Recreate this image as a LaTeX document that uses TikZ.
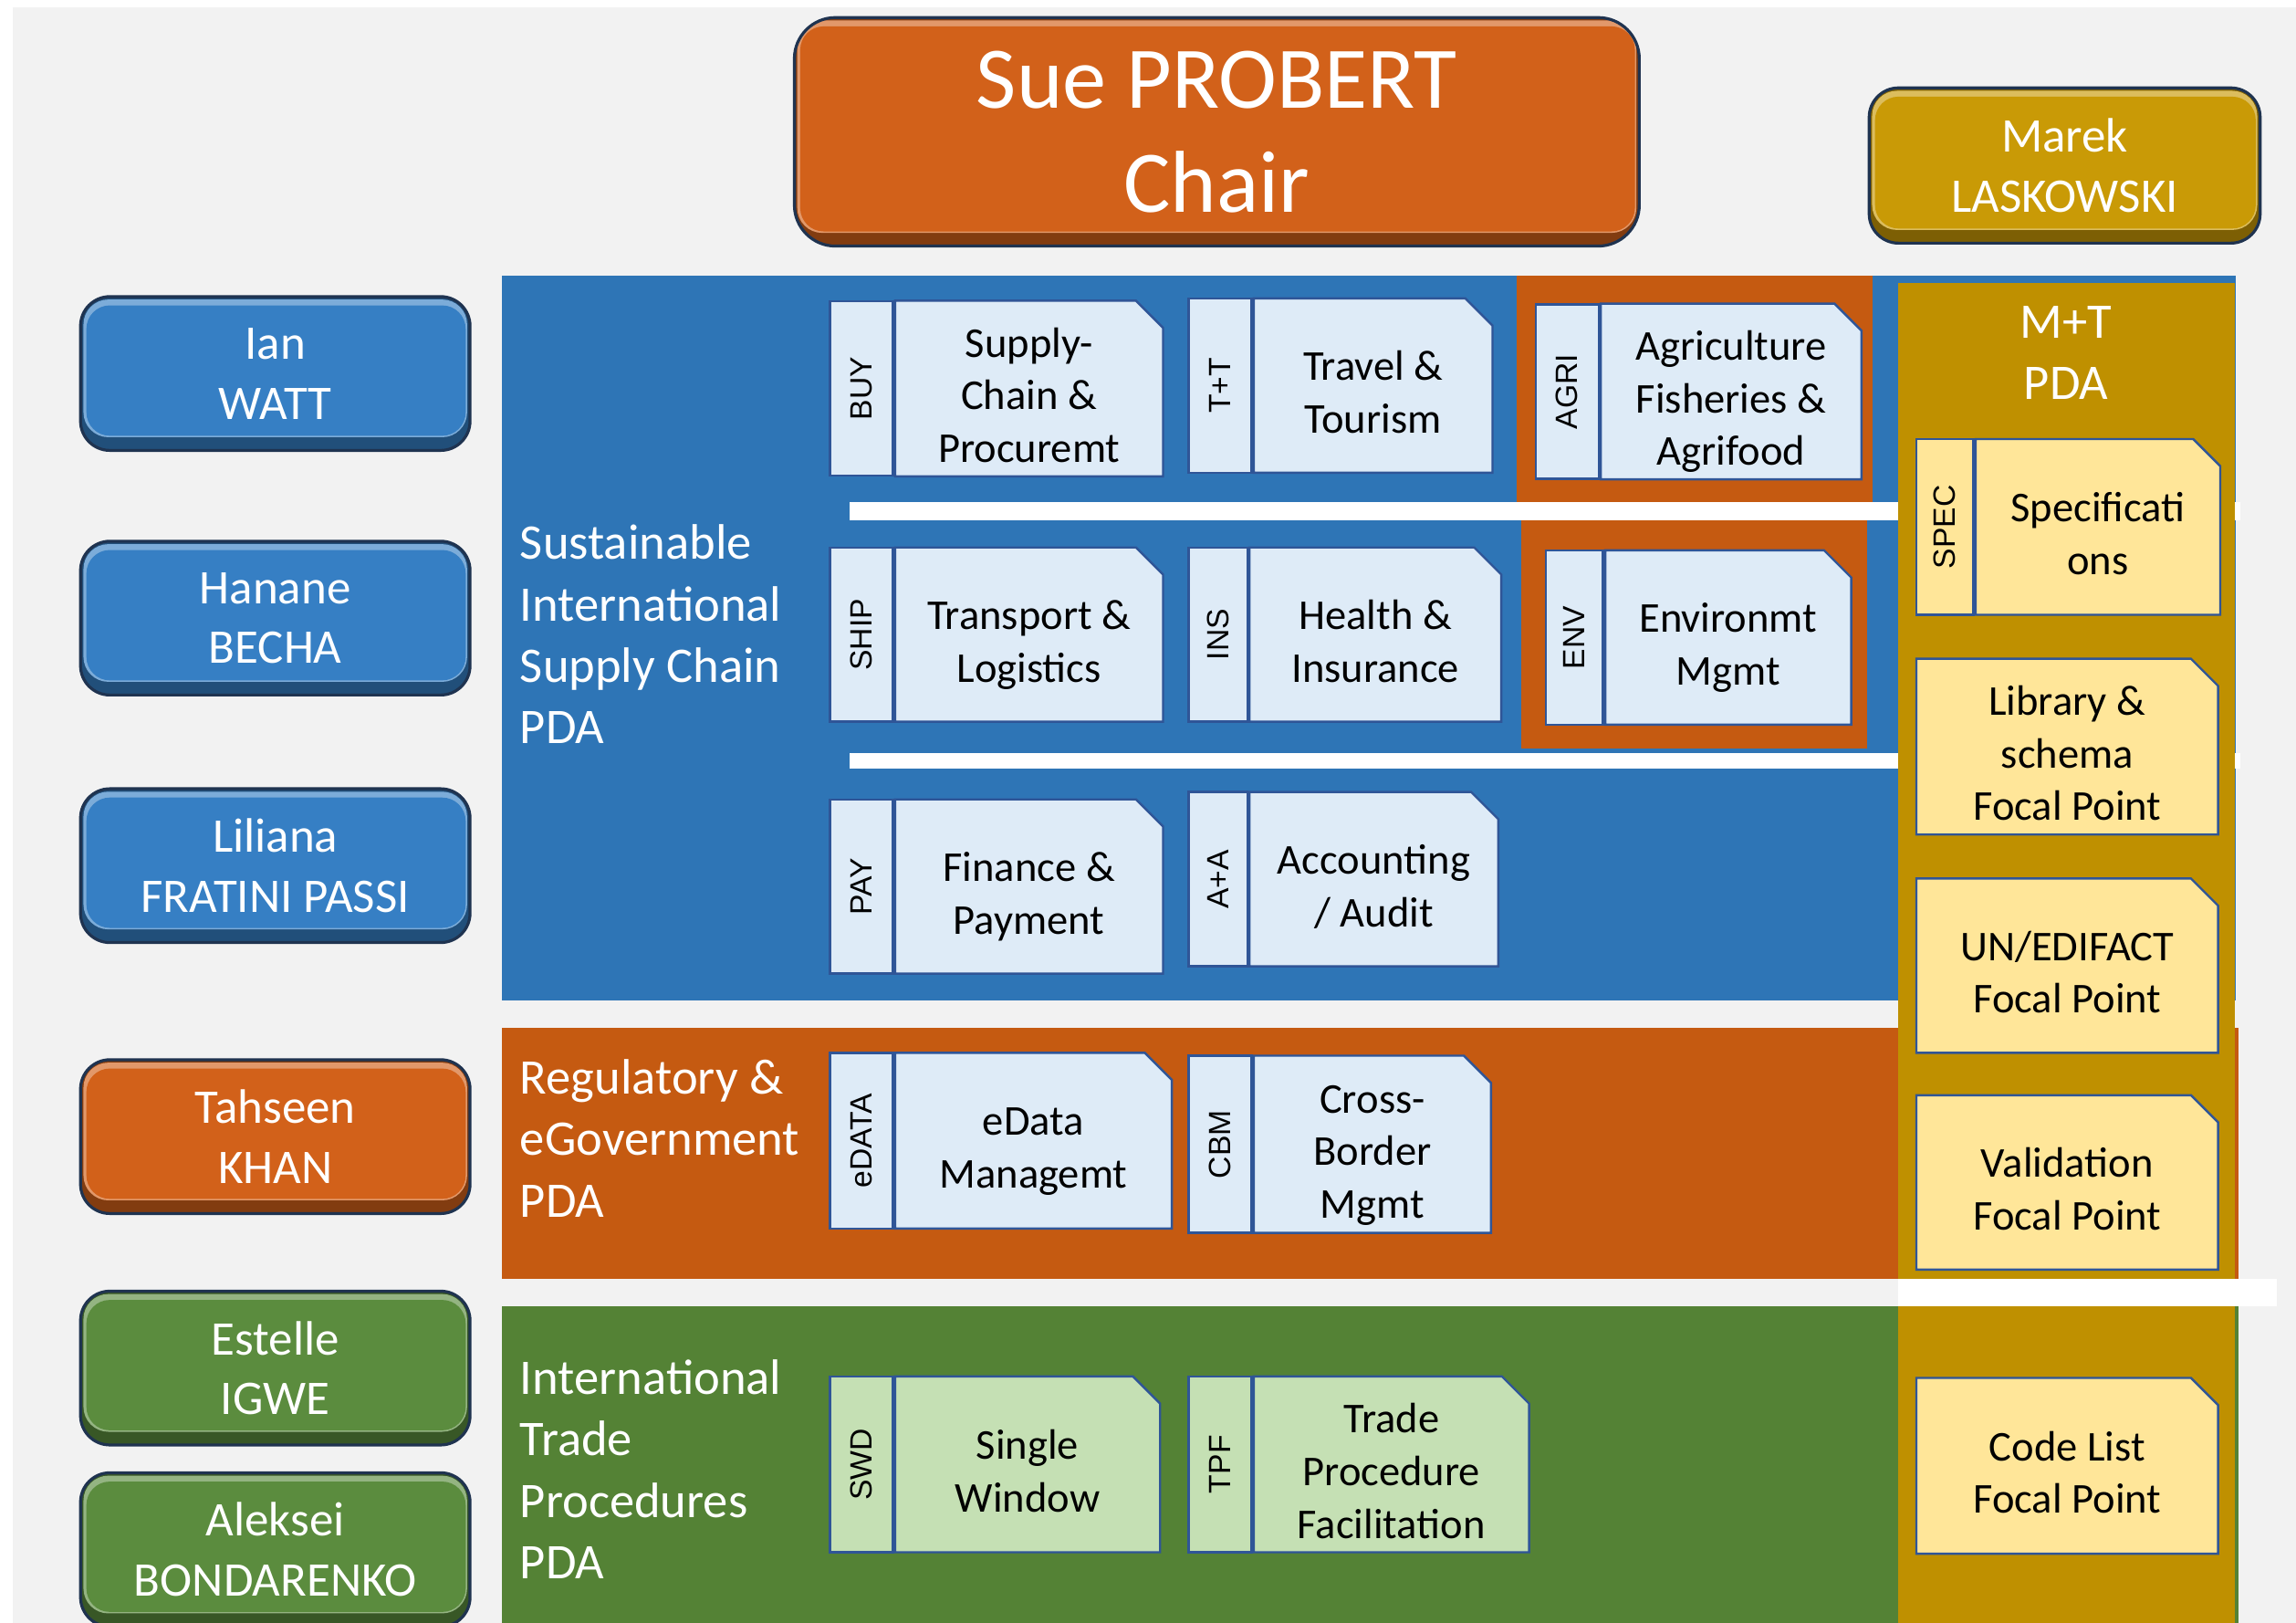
\documentclass[tikz,border=0pt]{standalone}
\usepackage{fontspec}
\setmainfont{Carlito}
\newfontfamily\tabfont{Liberation Sans}
\usetikzlibrary{positioning}
\usetikzlibrary{shapes.misc}

\definecolor{bggray}{HTML}{F2F2F2}
\definecolor{sblue}{HTML}{2E75B6}
\definecolor{sorange}{HTML}{C55A11}
\definecolor{sgreen}{HTML}{548235}
\definecolor{scol}{HTML}{BF9000}
\definecolor{pblue}{HTML}{367FC4}
\definecolor{porange}{HTML}{D2611A}
\definecolor{pgreen}{HTML}{5B8C3E}
\definecolor{pgold}{HTML}{C99A06}
\definecolor{pedge}{HTML}{1F3350}
\definecolor{dblue}{HTML}{DEEBF7}
\definecolor{dyellow}{HTML}{FFE699}
\definecolor{dgreen}{HTML}{C5E0B4}
\definecolor{dline}{HTML}{2F5597}

\begin{document}
\begin{tikzpicture}[x=1pt,y=-1pt]
		\tikzstyle{person}=[rectangle,rounded corners=20pt,draw=pedge,line width=2pt,
			fill=#1!62!black,minimum width=266pt,minimum height=105pt,
			text=white,align=center,font=\fontsize{33}{41}\selectfont,
			path picture={
				\fill[#1!65!white,rounded corners=17pt]
					([xshift=2pt,yshift=-2pt]path picture bounding box.north west) rectangle
					([xshift=-2pt,yshift=9pt]path picture bounding box.south east);
				\fill[#1,rounded corners=16pt]
					([xshift=4pt,yshift=-6pt]path picture bounding box.north west) rectangle
					([xshift=-3pt,yshift=10pt]path picture bounding box.south east);
			}];
		\tikzstyle{band}=[text=white,align=left,anchor=west,inner sep=0pt,
			font=\fontsize{34}{42}\selectfont];
		\tikzstyle{tab}=[rectangle,draw=dline,line width=1.5pt,minimum width=43pt,
			minimum height=119pt,inner sep=0pt,anchor=north west,
			font=\tabfont\fontsize{21}{21}\selectfont];
		\tikzstyle{doc}=[chamfered rectangle,chamfered rectangle corners=north east,
			chamfered rectangle xsep=9pt,chamfered rectangle ysep=9.5pt,
			draw=dline,line width=1.5pt,minimum height=119pt,inner sep=0pt,
			text height=65pt,text depth=0pt,
			align=center,font=\fontsize{29}{36}\selectfont];
		\tikzstyle{three}=[text height=101pt];

		\useasboundingbox (0,0) rectangle (1568,1108);
		\fill[white] (0,0) rectangle (1568,1108);
		\fill[bggray] (9,5) rectangle (1568,1108);

		% areas
		\fill[sblue] (343,188) rectangle (1527,683);
		\fill[sorange] (1036,188) rectangle (1279,343);
		\fill[white] (580,343) rectangle (1530,355);
		\fill[sorange] (1039,355) rectangle (1275,511);
		\fill[white] (580,514) rectangle (1530,525);
		\fill[sorange] (343,702) rectangle (1529,873);
		\fill[sgreen] (343,892) rectangle (1529,1108);
		\fill[scol] (1296,193) rectangle (1526,1108);
		\fill[white] (1296,873) rectangle (1555,892);

		% people
		\node[person=porange,rounded corners=28pt,minimum width=577pt,minimum height=156pt,
			font=\fontsize{60}{71}\selectfont](chair) at (831,90){Sue PROBERT\\Chair};
		\node[person=pgold,minimum width=267pt,minimum height=106pt](marek) at (1410,113){Marek\\LASKOWSKI};
		\node[person=pblue](ian) at (188,255){Ian\\WATT};
		\node[person=pblue](hanane) at (188,422){Hanane\\BECHA};
		\node[person=pblue](liliana) at (188,591){Liliana\\FRATINI PASSI};
		\node[person=porange](tahseen) at (188,776){Tahseen\\KHAN};
		\node[person=pgreen](estelle) at (188,934){Estelle\\IGWE};
		\node[person=pgreen](aleksei) at (188,1058){Aleksei\\BONDARENKO};

		% PDA titles
		\node[band](sisc) at (355,433){Sustainable\\International\\Supply Chain\\PDA};
		\node[band](reg) at (355,777){Regulatory \&\\eGovernment\\PDA};
		\node[band](itp) at (355,1003){International\\Trade\\Procedures\\PDA};
		\node[band,anchor=center,align=center](mt) at (1411,241){M+T\\PDA};

		% projects
		\node[tab,fill=dblue](buyT) at (566,205){\rotatebox{90}{BUY}};
		\node[doc,three,fill=dblue,minimum width=183pt,right=0pt of buyT](buy){Supply-\\Chain \&\\Procuremt};
		\node[tab,fill=dblue](ttT) at (811,203){\rotatebox{90}{T+T}};
		\node[doc,fill=dblue,minimum width=163pt,right=0pt of ttT](tt){Travel \&\\Tourism};
		\node[tab,fill=dblue](agriT) at (1048,207){\rotatebox{90}{AGRI}};
		\node[doc,three,fill=dblue,minimum width=178pt,right=0pt of agriT](agri){Agriculture\\Fisheries \&\\Agrifood};

		\node[tab,fill=dblue](shipT) at (566,373){\rotatebox{90}{SHIP}};
		\node[doc,fill=dblue,minimum width=183pt,right=0pt of shipT](ship){Transport \&\\Logistics};
		\node[tab,fill=dblue,minimum width=40pt](insT) at (811,373){\rotatebox{90}{INS}};
		\node[doc,fill=dblue,minimum width=172pt,right=0pt of insT](ins){Health \&\\Insurance};
		\node[tab,fill=dblue,minimum width=39pt](envT) at (1055,375){\rotatebox{90}{ENV}};
		\node[doc,fill=dblue,minimum width=168pt,right=0pt of envT](env){Environmt\\Mgmt};

		\node[tab,fill=dblue](payT) at (566,545){\rotatebox{90}{PAY}};
		\node[doc,fill=dblue,minimum width=183pt,right=0pt of payT](pay){Finance \&\\Payment};
		\node[tab,fill=dblue,minimum width=40pt](aaT) at (811,540){\rotatebox{90}{A+A}};
		\node[doc,fill=dblue,minimum width=170pt,right=0pt of aaT](aa){Accounting\\/ Audit};

		\node[tab,fill=dblue,minimum height=120pt](edataT) at (566,718){\rotatebox{90}{eDATA}};
		\node[doc,fill=dblue,minimum width=189pt,minimum height=120pt,right=0pt of edataT](edata){eData\\Managemt};
		\node[tab,fill=dblue,minimum height=121pt](cbmT) at (811,720){\rotatebox{90}{CBM}};
		\node[doc,three,fill=dblue,minimum width=162pt,minimum height=121pt,right=0pt of cbmT](cbm){Cross-\\Border\\Mgmt};

		\node[tab,fill=dgreen,minimum height=120pt](swdT) at (566,939){\rotatebox{90}{SWD}};
		\node[doc,fill=dgreen,minimum width=181pt,minimum height=120pt,right=0pt of swdT](swd){Single\\Window};
		\node[tab,fill=dgreen,minimum height=120pt](tpfT) at (811,939){\rotatebox{90}{TPF}};
		\node[doc,three,fill=dgreen,minimum width=188pt,minimum height=120pt,right=0pt of tpfT](tpf){Trade\\Procedure\\Facilitation};

		% focal points
		\node[tab,fill=dyellow,minimum width=39pt,minimum height=120pt](specT) at (1308,299){\rotatebox{90}{SPEC}};
		\node[doc,fill=dyellow,minimum width=167pt,minimum height=120pt,right=0pt of specT](spec){Specificati\\ons};
		\node[doc,three,fill=dyellow,minimum width=206pt,anchor=north west](lib) at (1308,449){Library \&\\schema\\Focal Point};
		\node[doc,fill=dyellow,minimum width=206pt,anchor=north west](edifact) at (1308,599){UN/EDIFACT\\Focal Point};
		\node[doc,fill=dyellow,minimum width=206pt,anchor=north west](valid) at (1308,747){Validation\\Focal Point};
		\node[doc,fill=dyellow,minimum width=206pt,minimum height=120pt,anchor=north west](codes) at (1308,940){Code List\\Focal Point};
	\end{tikzpicture}
\end{document}
